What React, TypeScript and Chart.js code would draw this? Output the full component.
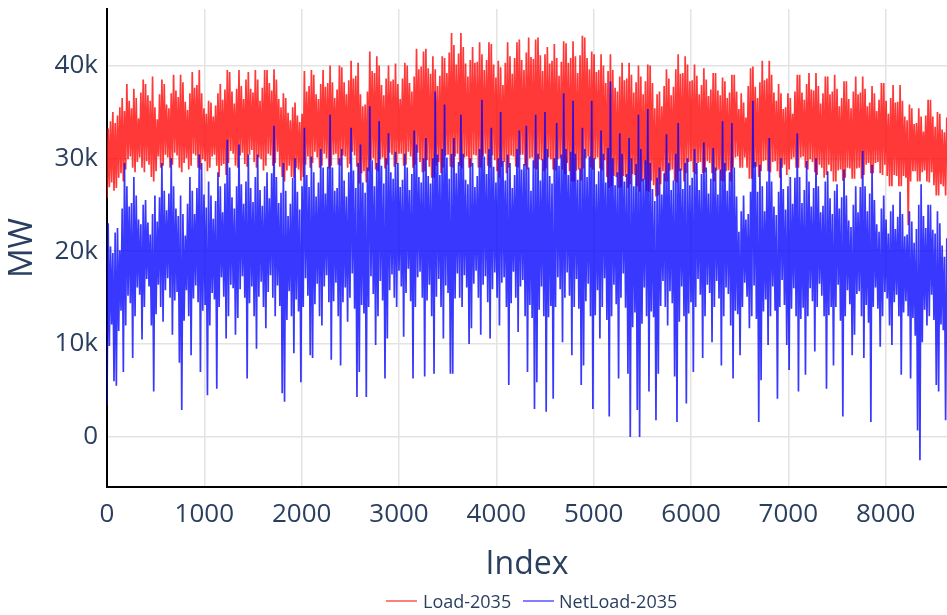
import React, { useEffect, useRef } from "react";
import { Chart, registerables } from "chart.js";

Chart.register(...registerables);

// Daily troughs and peaks, thousands of MW (one value per day, 360 days)
const loadLow = [
  25.7, 26.9, 27.4, 26.5, 26.8, 27.9, 28.4, 27.5, 28.8, 29.9, 30.2, 29, 28.5, 29.6, 30.1, 29, 28.5, 29.7, 29.3, 28,
  27.5, 28.6, 30.2, 29, 29.2, 30.4, 30.1, 29, 29.3, 30.6, 30.3, 29, 28.5, 29.5, 30, 28.8, 29.2, 30.5, 30.3, 29,
  28.8, 29.9, 29.7, 28.6, 29, 30.2, 30.4, 29.2, 28, 29.2, 29.4, 28.2, 29.5, 30.8, 30.5, 29.2, 29, 30.3, 30.6, 29.4,
  29.1, 30.4, 30.9, 29.6, 29, 30.1, 29.9, 28.7, 29.2, 30.5, 30.3, 29.2, 29.5, 30.7, 29.1, 28, 27.5, 28.7, 29.2, 28,
  27.9, 29, 28.8, 27.6, 28, 29.3, 30.2, 29, 29.5, 30.7, 30.1, 29, 29.2, 30.5, 30, 28.9, 29.2, 30.4, 30.5, 29.3,
  29.2, 30.3, 30.2, 29, 29.4, 30.7, 30.3, 29.1, 27.3, 28.4, 28.6, 27.4, 28.6, 29.8, 30, 28.8, 28.6, 29.9, 30.1, 28.9,
  29.3, 30.6, 30.4, 29.1, 29.4, 30.5, 30.5, 29.2, 29.3, 30.7, 30.2, 29, 29.3, 30.6, 29.6, 28.5, 28.6, 29.8, 29.1, 27.9,
  27.9, 29.2, 29.6, 28.4, 29, 30.3, 30.4, 29.1, 29, 30.2, 30.5, 29.2, 28.9, 30.1, 30.2, 29, 29.1, 30.4, 30.3, 29,
  29, 30.2, 30.5, 29.2, 29, 30.3, 29.8, 28.6, 27.9, 29.1, 29.6, 28.4, 29, 30.3, 30.2, 29.1, 29, 30.4, 30.4, 29.2,
  28.8, 30, 30.1, 28.9, 28.8, 29.9, 29.8, 28.6, 28.9, 30.1, 29.9, 28.8, 28.7, 29.9, 30, 28.8, 28.3, 29.5, 28.6, 27.5,
  27.5, 28.7, 28.8, 27.6, 28.9, 30, 30.2, 29, 28.8, 29.9, 30.1, 28.9, 28.7, 29.8, 28, 26.8, 27, 28.1, 28, 26.8,
  26.9, 28.1, 28, 26.8, 27.2, 28.3, 28.2, 27, 26.4, 27.5, 27.7, 26.5, 26.4, 27.6, 27.1, 25.9, 26, 27.2, 28.6, 27.5,
  27.5, 28.7, 28.8, 27.6, 27.4, 28.6, 28.7, 27.5, 28.4, 29.6, 29.7, 28.5, 28.3, 29.5, 29.6, 28.4, 28.5, 29.7, 29.5, 28.4,
  27.5, 28.7, 28.8, 27.6, 27.5, 28.6, 28.7, 27.5, 29, 30.1, 30.2, 29, 29, 30.1, 29, 27.8, 27.8, 29, 29.1, 28,
  28.6, 29.7, 29.8, 28.6, 28.5, 29.6, 29.7, 28.6, 27.9, 29, 29.3, 28.2, 28.8, 29.9, 30.1, 29, 29, 30.1, 30.2, 29,
  28.8, 29.9, 29.6, 28.5, 28.2, 29.3, 29, 27.9, 28.2, 29.3, 28.6, 27.5, 27.5, 28.7, 28.8, 27.6, 27.9, 29, 28.9, 27.8,
  27.8, 28.9, 29, 27.8, 28.2, 29.3, 29.5, 28.4, 28.4, 29.5, 29.6, 28.4, 28.2, 29.3, 28.1, 27, 27, 28.2, 28.1, 27,
  27, 28.1, 27.9, 22.8, 27.5, 28.6, 28.6, 27.5, 27.5, 28.5, 28.7, 27.5, 27.4, 28.5, 27.1, 26, 26, 27.2, 27, 26,
];

const loadHigh = [
  33.2, 34, 35, 33.8, 34.6, 35.5, 36.5, 35.1, 38, 36.2, 35.4, 37.5, 36.5, 34.3, 37.1, 38.5, 38, 36.8, 36.2, 38.8,
  35.5, 34.2, 36.9, 38.5, 38, 35.8, 35.4, 37, 39, 37.3, 36.6, 39, 38.2, 36.1, 35.2, 37, 39.3, 37.6, 37.9, 39.5,
  37, 35.4, 34.8, 36.2, 36, 34.5, 35.7, 37, 38, 36.3, 37.4, 39.5, 39.3, 37.2, 35.9, 37.5, 39.5, 37.8, 36.4, 38.5,
  39.3, 37.5, 37.1, 39.5, 38.5, 36.2, 37.6, 39.5, 39.5, 38.1, 37.3, 39.6, 38.5, 36.4, 35.5, 37, 36.5, 34.9, 34.1, 35.5,
  36, 34.6, 33.9, 34.8, 39.4, 37.2, 37.8, 39.5, 39, 36.9, 36.4, 38, 39.5, 37.7, 38.1, 40, 38.2, 36.5, 37.4, 40,
  39.8, 38.2, 36.9, 38.4, 40.5, 38.6, 38.9, 40.3, 36.9, 35.6, 35.8, 37.2, 41.5, 39.4, 39.2, 41, 40, 37.9, 36.8, 38.6,
  40, 38.3, 38.5, 40.2, 38, 36.4, 38.6, 40.3, 40, 38.1, 37.2, 38.8, 41.8, 39.6, 39.9, 41.5, 41.8, 39.7, 39.1, 41,
  39.6, 37.8, 38.9, 41, 40.8, 39.2, 41.4, 43.5, 42.2, 40.1, 41.3, 43.5, 42, 40.2, 38.8, 40.6, 42, 40.3, 40.4, 42.5,
  41.2, 39.5, 40.6, 42.5, 42.3, 40.1, 38.7, 40.5, 39.8, 37.9, 40.3, 42.5, 41, 39.1, 40.8, 42.5, 42.8, 40.6, 39.5, 41.4,
  43, 40.9, 40.7, 42.8, 43, 41.1, 39.4, 41.2, 42, 40.2, 40.5, 42.3, 40.8, 38.9, 40.4, 42.6, 42.4, 40.3, 40.8, 42.6,
  41, 39.2, 41.1, 43.2, 43, 40.8, 39.6, 41.5, 41.2, 39.3, 39.5, 41.2, 40, 38.1, 39.4, 41.2, 39.5, 37.6, 37.2, 38.8,
  40.3, 38.4, 38.6, 40.3, 39, 37.1, 38.2, 40, 38.8, 36.9, 38.3, 40.1, 40, 38.1, 35.4, 36.9, 37.2, 35.6, 37.8, 39.6,
  38.6, 36.8, 37.7, 39.6, 41.2, 39.1, 39.2, 41, 40.1, 38.3, 38.4, 40.1, 38.9, 36.9, 37.9, 39.7, 38.5, 36.7, 37.4, 39.2,
  39.2, 37.3, 36.8, 38.7, 38.3, 36.5, 37.1, 39, 39, 37.2, 35.3, 37, 36, 34.4, 37.8, 39.7, 39.9, 37.7, 36.5, 38.2,
  40.5, 38.4, 38.6, 40.5, 39, 37.1, 36.2, 38, 37, 35.3, 35.5, 37, 36.5, 34.8, 37.2, 39, 39, 37.1, 36.3, 38,
  39.2, 37.4, 37.3, 39.2, 37.8, 35.9, 37, 38.8, 38.8, 36.9, 37.2, 39, 37.5, 35.6, 36.5, 38.3, 38.3, 36.4, 35.4, 37.2,
  38.8, 36.9, 37.1, 38.8, 37.5, 35.6, 36, 37.8, 37, 35.1, 36.3, 38.1, 38.1, 36.2, 34.8, 36.5, 37.9, 36, 36.1, 37.9,
  36.2, 34.5, 34.1, 35.8, 35.4, 33.7, 33.8, 35.4, 34.5, 32.9, 34.6, 36.3, 36.3, 34.5, 33.4, 35, 34.8, 33.1, 32.8, 34.4,
];

const netLow = [
  3.4, 9.8, 12.1, 6, 5.5, 11.4, 13.6, 7, 12, 15.2, 14.4, 8.5, 13, 16.1, 15.3, 10.5, 14, 17, 16.2, 12,
  4.9, 13.2, 16.4, 14, 12.4, 15.8, 17.1, 15, 11, 14.7, 15.6, 8, 2.9, 12.5, 15.8, 13, 8.8, 14.9, 16.3, 14.5,
  7, 13.6, 14.2, 4.5, 12, 15.5, 14.8, 5.2, 14, 17.2, 15.1, 10.6, 13, 16.4, 16, 11, 12.8, 15.9, 17.3, 15,
  6.3, 14.4, 16.2, 13, 9.5, 15.1, 16.7, 14, 11.7, 15.6, 17.4, 15, 13, 16.3, 14.1, 4.7, 3.8, 12.6, 15.7, 13,
  9, 14.8, 13.5, 5.9, 14, 17.1, 15.2, 8.8, 8.5, 14.3, 16.5, 13, 12, 16.2, 17.4, 14.5, 8.3, 14.6, 16.6, 13,
  7.7, 14.5, 16.1, 12.4, 15, 17.6, 13.8, 4.3, 7, 14.2, 13.3, 4.3, 14, 17.3, 15.4, 9.9, 13, 16.8, 14.7, 6.3,
  10.6, 15.8, 17.5, 15, 14, 17.9, 16.2, 10.8, 15.5, 18.1, 14.6, 6.3, 14, 17.2, 17.8, 15, 6.5, 14.7, 16.4, 13,
  6.8, 15.1, 17, 14, 10.6, 16.3, 15.5, 6.8, 6.8, 14.9, 17.6, 15, 14, 17.4, 16.1, 10, 11.7, 16.5, 17.9, 15,
  11, 16.4, 17.3, 14.5, 10.6, 15.9, 17.7, 15, 12, 16.6, 17.2, 14, 5.6, 14.4, 17.8, 15, 11.3, 16.2, 16.9, 13,
  7, 14.2, 12.8, 3, 5.9, 13.7, 16.2, 13, 2.7, 12.9, 14.1, 4.1, 14, 17.2, 15.9, 10.2, 15, 17.7, 15.2, 8.8,
  14, 17, 13.8, 5.6, 7.7, 14.6, 16.5, 13, 3, 13.1, 15.8, 10.6, 14, 17.1, 12.6, 2.2, 13, 16.4, 14.3, 6.3,
  15, 17.6, 13.9, 6.8, 0, 11.8, 13.4, 2.9, 0, 12.2, 16.1, 13, 4.9, 13.5, 12.9, 1.8, 6.8, 14.1, 16.8, 14,
  12, 15.7, 14.4, 6.5, 1.6, 12.4, 16.2, 13, 3.6, 13.3, 14.5, 7, 14, 17, 15.3, 8.5, 13, 16.4, 15.5, 10.2,
  14, 16.8, 14.9, 7.7, 13, 16.1, 15.4, 12, 6.3, 13.6, 13.2, 8.8, 14, 16.6, 15.1, 11.7, 13, 16.3, 12.7, 1.6,
  6.1, 13.5, 14.8, 9.9, 13, 16.2, 13.6, 4.1, 14, 16.9, 14.2, 9.9, 7.2, 13.8, 16, 13, 4.9, 12.7, 13.9, 6.7,
  13, 16, 14.6, 9.2, 14, 16.5, 15.2, 13, 5.2, 13.1, 14, 7.7, 14, 16.4, 12.5, 2.2, 13, 15.8, 14.3, 8.8,
  11, 15.4, 15.7, 13, 8.5, 14.2, 12.3, 1.6, 14, 16.1, 13.8, 9.7, 13, 15.6, 14.9, 12, 9.9, 14.5, 15.3, 13,
  6.7, 13.4, 14.6, 13, 6.3, 12.8, 10.9, 0.7, -2.5, 10.2, 13.7, 12, 13, 15.3, 12.6, 5.6, 4.9, 12.1, 11.5, 1.8,
];

const netHigh = [
  23, 20.5, 19.8, 22, 22.5, 20.1, 24.6, 29.5, 27, 24.8, 25.2, 28, 26, 23.4, 22.9, 25, 25.5, 23.1, 21.8, 24,
  26, 23.2, 25.8, 29.5, 26.5, 24.4, 26.2, 30, 27, 24.6, 23.8, 26, 24, 21.7, 25.1, 28, 26.5, 24, 26.8, 30.4,
  29.5, 26.1, 24.7, 27.5, 26, 23.5, 25.4, 28.5, 27, 24.2, 27.3, 32, 29, 25.8, 24.6, 27, 31.5, 27.2, 25.1, 27.5,
  30.4, 26.8, 25.3, 28, 30.4, 26.6, 24.9, 27, 28.5, 25.7, 28.4, 33.5, 28, 25.2, 26.3, 29.5, 26.5, 23.8, 25.1, 27.9,
  30, 26.4, 24.5, 27, 33.3, 28.2, 26.9, 30.2, 28.5, 25.9, 27.4, 31, 29, 26.2, 29.1, 34.7, 29, 26.5, 26.8, 30,
  31, 27.6, 25.9, 28.5, 33.3, 28.7, 26.8, 29.5, 31.5, 27.4, 26.3, 29, 35.6, 29.8, 27, 29.5, 34, 29.2, 27.3, 30,
  32.7, 28.5, 27.8, 30.7, 29.5, 26.9, 27.7, 30.5, 29, 26.6, 28.3, 33, 31.5, 28, 27.4, 30, 32.2, 28.1, 27.3, 30,
  37.2, 30.4, 28.2, 31, 35.8, 30.1, 27.8, 30.5, 32.2, 28.4, 29.6, 34.7, 30.5, 27.7, 27.2, 30, 29.5, 26.9, 28.1, 31,
  36.3, 30.2, 28.3, 31, 33.3, 29.1, 27.4, 30, 35, 29.7, 27.6, 30.4, 29.5, 26.8, 28.2, 31, 33, 28.8, 29.4, 33.5,
  29, 26.5, 29.8, 34.7, 30.5, 27.6, 29.9, 35, 31, 28.1, 27.3, 30, 33.8, 29.2, 30.4, 37, 31, 28.2, 30.7, 36.2,
  30.5, 27.7, 28.9, 33.3, 31, 28, 30.2, 36.2, 30, 27.2, 28.6, 33, 30.5, 27.4, 31.1, 38.3, 30, 27.1, 28.5, 32.7,
  30.5, 27.5, 28.3, 32.2, 30, 27, 29.4, 34.7, 31, 27.8, 29.8, 35.3, 29.5, 26.7, 25.4, 27.9, 29, 26.1, 28.4, 32.6,
  29.5, 26.6, 27.6, 30.5, 33.8, 28.9, 26.7, 29.5, 30, 27.1, 27.9, 31, 29.5, 26.6, 28.3, 31.7, 29, 26.2, 27.8, 31.1,
  29, 26.1, 28.8, 34, 29.5, 26.5, 28.5, 33.8, 29, 25.9, 22.1, 24.3, 26, 23.4, 24, 26.4, 36.2, 29.6, 26.4, 29.3,
  27, 24.3, 27.5, 32.2, 27.5, 24.8, 23.9, 26.4, 30, 26.7, 24.5, 27, 28, 25.1, 27.9, 32.7, 28, 25.2, 26.6, 29.7,
  27.5, 24.8, 26.8, 30, 27, 24.2, 24.9, 27.5, 28.6, 25.7, 24, 26.5, 27.2, 24.6, 25.8, 28.8, 26, 23.3, 22.6, 25,
  27, 24.2, 26.9, 30.8, 27, 24.3, 26.2, 29.3, 25.5, 22.9, 22.1, 24.6, 26, 23.4, 21.9, 24.3, 25, 22.4, 23.7, 26.4,
  24, 21.6, 21.8, 24.3, 23.2, 20.9, 22.4, 25, 27.2, 23.8, 22.5, 25, 25, 22.3, 21.9, 24.3, 23, 20.6, 19.4, 21.4,
];

const seriesNames = ["Load-2035", "NetLoad-2035"];
const xTickValues = [0, 1000, 2000, 3000, 4000, 5000, 6000, 7000, 8000];
const yTickValues = [0, 10000, 20000, 30000, 40000];
const yTickLabels = ["0", "10k", "20k", "30k", "40k"];

const HOURS_PER_DAY = 24;

function buildPoints(lows: number[], highs: number[]) {
  const pts: { x: number; y: number }[] = [];
  for (let d = 0; d < lows.length; d++) {
    pts.push({ x: d * HOURS_PER_DAY, y: lows[d] * 1000 });
    pts.push({ x: d * HOURS_PER_DAY + HOURS_PER_DAY / 2, y: highs[d] * 1000 });
  }
  return pts;
}

const TEXT = "#2a3f5f";
const FONT = "'Open Sans', 'Noto Sans', sans-serif";
const RED = "rgba(255,0,0,0.78)";
const BLUE = "rgba(0,0,255,0.78)";

export default function App() {
  const ref = useRef<HTMLCanvasElement | null>(null);

  useEffect(() => {
    if (!ref.current) return;
    const chart = new Chart(ref.current, {
      type: "line",
      data: {
        datasets: [
          {
            label: seriesNames[0],
            data: buildPoints(loadLow, loadHigh),
            borderColor: RED,
            backgroundColor: RED,
            borderWidth: 1.7,
            pointRadius: 0,
            tension: 0,
            order: 1,
          },
          {
            label: seriesNames[1],
            data: buildPoints(netLow, netHigh),
            borderColor: BLUE,
            backgroundColor: BLUE,
            borderWidth: 1.7,
            pointRadius: 0,
            tension: 0,
            order: 0,
          },
        ],
      },
      options: {
        responsive: false,
        animation: false,
        devicePixelRatio: 1,
        parsing: false,
        layout: { padding: { left: 0, right: 0, top: 9, bottom: 0 } },
        plugins: {
          legend: { display: false },
          tooltip: { enabled: false },
        },
        scales: {
          x: {
            type: "linear",
            min: 0,
            max: 8630,
            afterBuildTicks: (s: any) => {
              s.ticks = xTickValues.map((v) => ({ value: v }));
            },
            afterFit: (s: any) => {
              s.height = 128;
              s.paddingLeft = 0;
              s.paddingRight = 0;
            },
            ticks: {
              autoSkip: false,
              maxRotation: 0,
              padding: 12,
              color: TEXT,
              font: { family: FONT, size: 26 },
              callback: (v: any) => String(v),
            },
            grid: { color: "#e3e3e3", lineWidth: 1.5, drawTicks: false },
            border: { display: true, color: "#000", width: 2 },
            title: {
              display: true,
              text: "Index",
              color: TEXT,
              font: { family: FONT, size: 32 },
              padding: { top: 0, bottom: 31 },
            },
          },
          y: {
            type: "linear",
            min: -5390,
            max: 46080,
            afterBuildTicks: (s: any) => {
              s.ticks = yTickValues.map((v) => ({ value: v }));
            },
            afterFit: (s: any) => {
              s.width = 107;
              s.paddingTop = 0;
              s.paddingBottom = 0;
            },
            ticks: {
              autoSkip: false,
              padding: 9,
              color: TEXT,
              font: { family: FONT, size: 26 },
              callback: (v: any) => {
                const idx = yTickValues.indexOf(Number(v));
                return idx >= 0 ? yTickLabels[idx] : "";
              },
            },
            grid: { color: "#e3e3e3", lineWidth: 1.5, drawTicks: false },
            border: { display: true, color: "#000", width: 2 },
            title: {
              display: true,
              text: "MW",
              color: TEXT,
              font: { family: FONT, size: 33 },
              padding: { top: 3, bottom: 0 },
            },
          },
        },
      },
    });
    return () => chart.destroy();
  }, []);

  const legendText: React.CSSProperties = {
    position: "absolute",
    top: 592,
    fontFamily: FONT,
    fontSize: 18,
    lineHeight: "18px",
    color: TEXT,
    whiteSpace: "nowrap",
  };
  const legendLine: React.CSSProperties = {
    position: "absolute",
    top: 600,
    width: 31,
    height: 2,
  };

  return (
    <div
      style={{
        position: "absolute",
        left: 0,
        top: 0,
        width: 947,
        height: 615,
        background: "#fff",
        overflow: "hidden",
      }}
    >
      <canvas ref={ref} width={947} height={615} style={{ display: "block" }} />
      <div style={{ ...legendLine, left: 386, background: "rgba(255,0,0,0.5)" }} />
      <div style={{ ...legendText, left: 423 }}>{seriesNames[0]}</div>
      <div style={{ ...legendLine, left: 523, background: "rgba(0,0,255,0.5)" }} />
      <div style={{ ...legendText, left: 559 }}>{seriesNames[1]}</div>
    </div>
  );
}
